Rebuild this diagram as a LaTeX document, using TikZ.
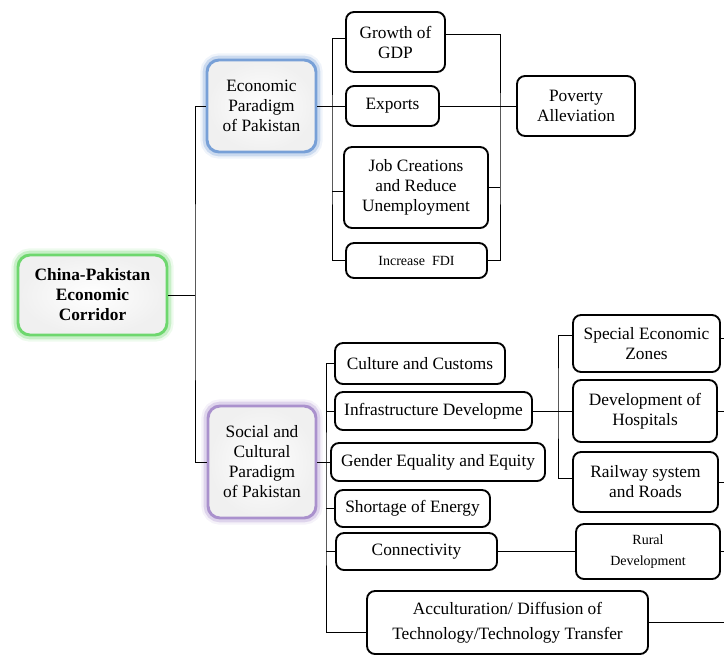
\documentclass[tikz,border=0pt]{standalone}
\usepackage{fontspec}
\setmainfont{Liberation Serif}
\newfontfamily\tnr{Liberation Serif}
\usetikzlibrary{calc}
\definecolor{glowgreen}{RGB}{110,215,110}
\definecolor{glowblue}{RGB}{120,160,215}
\definecolor{glowpurple}{RGB}{170,145,205}
\tikzset{
  boxat/.style n args={4}{at={({(#1+#3)/2},{(#2+#4)/2})},
    minimum width={(#3-#1)*0.75pt}, minimum height={(#4-#2)*0.75pt}},
  leaf/.style={draw=black, line width=1.4pt, rounded corners=6pt, fill=white,
    inner sep=0pt, align=center, font=\tnr\fontsize{13}{15}\selectfont},
  mainbox/.style={draw=#1, line width=2.2pt, rounded corners=9pt,
    inner color=white, outer color=black!6, inner sep=0pt, align=center,
    font=\tnr\fontsize{13}{15}\selectfont,
    preaction={draw=#1, line width=10pt, draw opacity=0.12},
    preaction={draw=#1, line width=6.5pt, draw opacity=0.3}},
  link/.style={draw=black, line width=0.7pt},
}
\begin{document}
\begin{tikzpicture}[x=0.75pt,y=-0.75pt]
\useasboundingbox (0,0) rectangle (724,656);
% main nodes
\node[mainbox=glowgreen, font=\tnr\fontsize{13}{15}\selectfont\bfseries, boxat={18}{255}{167}{335}] (cpec) {China-Pakistan\\Economic\\Corridor};
\node[mainbox=glowblue, boxat={207}{60}{316}{152}] (eco) {Economic\\Paradigm\\of Pakistan};
\node[mainbox=glowpurple, boxat={208}{406}{316}{518}] (soc) {Social and\\Cultural\\Paradigm\\of Pakistan};
% economic leaves
\node[leaf, boxat={346}{12}{445}{72}] (gdp) {Growth of\\GDP};
\node[leaf, boxat={346}{86}{439}{126}] (exp) {Exports};
\node[leaf, boxat={344}{147}{488}{228}] (job) {Job Creations\\and Reduce\\Unemployment};
\node[leaf, font=\tnr\fontsize{10.5}{13}\selectfont, boxat={346}{243}{487}{278}] (fdi) {Increase\ \ FDI};
\node[leaf, boxat={517}{76}{635}{136}] (pov) {Poverty\\Alleviation};
% social leaves
\node[leaf, boxat={335}{343}{505}{384}] (cul) {Culture and Customs};
\node[leaf, boxat={335}{392}{532}{430}] (inf) {Infrastructure Developme};
\node[leaf, boxat={331}{443}{545}{481}] (gen) {Gender Equality and Equity};
\node[leaf, boxat={335}{490}{490}{527}] (sho) {Shortage of Energy};
\node[leaf, boxat={336}{533}{497}{570}] (con) {Connectivity};
\node[leaf, font=\tnr\fontsize{13}{18.5}\selectfont, boxat={367}{591}{648}{654}] (acc) {Acculturation/ Diffusion of\\Technology/Technology Transfer};
\node[leaf, boxat={573}{315}{720}{372}] (sez) {Special Economic\\Zones};
\node[leaf, boxat={573}{380}{717}{442}] (hos) {Development of\\Hospitals};
\node[leaf, boxat={573}{452}{718}{512}] (rai) {Railway system\\and Roads};
\node[leaf, font=\tnr\fontsize{10.5}{16}\selectfont, boxat={576}{524}{720}{579}] (rur) {Rural\\Development};
% trunk coordinates
\coordinate (t1) at (195,300);
\coordinate (t2) at (332,150);
\coordinate (t3) at (500,150);
\coordinate (t4) at (326,500);
\coordinate (t5) at (558,400);
\coordinate (edge) at (724,0);
% connectors
\draw[link] (cpec.east) -- (cpec.east -| t1);
\draw[link] (eco.west) -| (t1) |- (soc.west);
\draw[link] (eco.east) -- (eco.east -| t2);
\draw[link] ([yshift=3pt]gdp.west) -| (t2) |- (fdi.west);
\draw[link] (exp.west) -- (exp.west -| t2);
\draw[link] ([yshift=-3pt]job.west) -- ([yshift=-3pt]job.west -| t2);
\draw[link] ([yshift=6pt]gdp.east) -| (t3) |- (fdi.east);
\draw[link] (job.east) -- (job.east -| t3);
\draw[link] (exp.east) -- (pov.west);
\draw[link] (cul.west) -| (t4) |- ([yshift=-7.5pt]acc.west);
\draw[link] (soc.east) -- (gen.west);
\draw[link] (inf.west) -- (inf.west -| t4);
\draw[link] (sho.west) -- (sho.west -| t4);
\draw[link] (con.west) -- (con.west -| t4);
\draw[link] (inf.east) -- (hos.west);
\draw[link] ([yshift=6pt]sez.west) -| (t5) |- ([yshift=3pt]rai.west);
\draw[link] (con.east) -- (rur.west);
\draw[link] ([yshift=4pt]sez.east) -- ([yshift=4pt]sez.east -| edge);
\draw[link] (hos.east) -- (hos.east -| edge);
\draw[link] (rai.east) -- (rai.east -| edge);
\draw[link] (rur.east) -- (rur.east -| edge);
\draw[link] (acc.east) -- (acc.east -| edge);
\end{tikzpicture}
\end{document}
